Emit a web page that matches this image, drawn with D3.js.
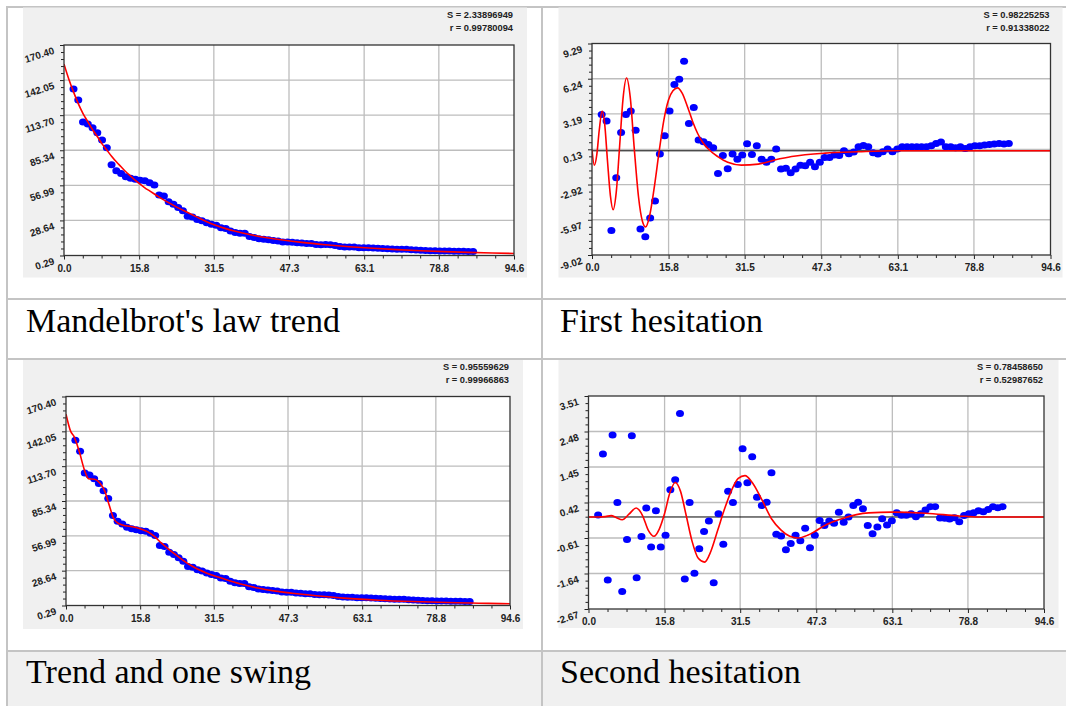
<!DOCTYPE html>
<html>
<head>
<meta charset="utf-8">
<script src="https://cdn.jsdelivr.net/npm/d3@7"></script>
<style>
body { margin: 0; background: #fff; }
svg { display: block; }
.tick text { font-family: "Liberation Sans", Arial, sans-serif; font-weight: bold; font-size: 10px; fill: #222; }
.stat { font-family: "Liberation Sans", Arial, sans-serif; font-weight: bold; font-size: 9.3px; fill: #222; }
.caption { font-family: "Liberation Serif", "Times New Roman", serif; font-size: 34px; fill: #000; }
</style>
</head>
<body>
<div id="chart-area"></div>
<script>
// x index of the ranked observations (2 .. 86)
var ranks = d3.range(2, 87);

// observed values (same series on both trend charts)
var observed = [134.8,125.9,108.1,106.5,103.5,99.5,93.6,87.4,73.6,68.8,66.6,63.9,62.8,62.0,61.2,60.7,59.1,57.2,49.1,48.3,
    43.7,41.8,39.1,36.4,32.1,31.5,29.4,28.3,26.7,25.6,24.8,22.7,22.2,20.1,18.8,18.2,18.2,15.6,14.9,13.8,
    13.4,13.0,12.4,12.1,11.2,11.1,11.0,10.5,10.3,9.9,9.9,9.2,9.0,9.1,8.9,8.4,7.6,7.2,7.1,7.1,
    6.6,6.6,6.5,6.3,6.1,5.9,5.7,5.5,5.4,5.4,5.4,4.9,4.7,4.5,4.4,4.1,4.1,4.0,3.9,3.9,
    3.8,3.8,3.7,3.6,3.5];

// residuals after the trend
var firstResidual = [3.15,2.57,-6.89,-2.33,1.59,3.15,3.44,1.79,-6.77,-7.43,-5.82,-4.35,-0.28,1.30,3.44,5.74,6.20,7.76,2.37,3.75,
    0.93,0.78,0.55,0.26,-1.96,-0.40,-1.55,-0.28,-0.74,-0.37,0.61,-0.31,0.44,-0.74,-0.98,-0.74,0.15,-1.58,-1.52,-1.90,
    -1.58,-1.26,-1.29,-0.98,-1.38,-1.00,-0.57,-0.57,-0.37,-0.40,0.00,-0.25,-0.11,0.35,0.47,0.35,-0.17,-0.28,-0.08,0.15,
    -0.08,0.15,0.35,0.35,0.35,0.35,0.35,0.35,0.44,0.64,0.76,0.35,0.35,0.26,0.35,0.21,0.35,0.44,0.44,0.50,
    0.55,0.58,0.64,0.58,0.64];

// residuals after trend and one swing
var secondResidual = [0.06,1.83,-1.83,2.38,0.42,-2.16,-0.65,2.36,-1.76,-0.57,0.26,-0.87,0.18,-0.87,-0.53,0.79,1.08,3.00,-1.80,0.42,
    -1.63,-0.92,-0.42,-0.12,-1.91,0.09,-0.79,0.75,0.42,0.94,1.98,0.99,1.75,0.57,0.33,0.43,1.28,-0.50,-0.55,-0.95,
    -0.77,-0.53,-0.69,-0.33,-0.89,-0.53,-0.10,-0.25,-0.12,-0.18,0.14,-0.15,0.00,0.33,0.43,0.24,-0.25,-0.49,-0.29,-0.05,
    -0.23,-0.11,0.12,0.05,0.05,0.09,0.01,0.09,0.20,0.30,0.30,-0.03,-0.04,-0.06,-0.02,-0.14,0.04,0.09,0.12,0.18,
    0.15,0.22,0.30,0.27,0.30];

// fitted curves [x, y]
var trendFit = [[0,155],[1,143],[2,132.5],[3,123],[4,115],[5,108.5],[6,102],[7,96.5],[8,90.5],[9,85.5],[10,80.5],[11,76],
    [12,72],[13,68],[14,64.5],[15,61],[16,58],[17,55],[18,52.5],[19,50],[20,47.5],[22,43],[24,38.8],[26,35],[28,31.3],
    [30,27.6],[32,24.6],[34,22.0],[36,19.9],[38,18.1],[40,16.5],[43,14.5],[46,12.8],[50,10.9],[55,9.0],[60,7.4],
    [65,6.1],[70,5.0],[75,4.1],[80,3.4],[85,2.8],[90,2.3],[94.6,1.9]];

var swingFit = [[0,156],[1,142],[1.7,138],[2.8,126],[3.9,111],[4.8,103.5],[6.1,103],[7.2,100],[8.3,93],[9.2,82],
    [10.1,71.5],[11.2,67],[12.7,65.2],[14.1,64.4],[15.6,63],[17.4,60.3],[18.9,56.3],[20.4,50.8],[22.6,44],[24.8,37.5],
    [27,32],[29.9,26.8],[33.6,22],[37.2,17.8],[40.9,14.5],[44.6,12],[48.2,10.3],[51.9,8.8],[59.2,6.3],[66.6,4.6],
    [73.9,3.5],[81.2,2.7],[86.4,2.3],[90,2],[94.6,1.7]];

var firstSwing = [[0,0.1],[0.48,-1.25],[1.0,-0.3],[1.5,1.8],[2.08,3.45],[2.6,2.4],[3.2,-0.9],[3.8,-3.9],[4.36,-5.1],
    [5.0,-3.6],[5.7,0.4],[6.4,4.5],[7.13,6.3],[7.9,4.6],[8.7,0.3],[9.6,-4.0],[10.4,-6.1],[11.07,-6.6],[11.9,-5.6],
    [12.8,-3.3],[13.84,-0.1],[14.8,2.6],[15.78,4.4],[16.7,5.2],[17.65,5.45],[18.6,5.0],[19.72,3.8],[20.8,2.5],
    [21.8,1.5],[22.9,0.7],[23.9,0.2],[25.95,-0.5],[28.0,-1.0],[30.8,-1.24],[34.3,-1.15],[37.7,-0.8],[41.2,-0.5],
    [48.1,-0.2],[55,-0.08],[62,0],[94.6,0]];

var secondSwing = [[0,0],[2,0],[3.5,0.01],[4.7,0.04],[5.8,-0.02],[7.0,-0.08],[8.4,0.08],[9.9,0.26],[11.2,0.05],
    [12.4,-0.38],[13.6,-0.56],[14.7,-0.35],[15.8,0.1],[16.9,0.7],[18.0,1.0],[19.1,0.75],[20.2,0.1],[21.5,-0.7],
    [22.8,-1.2],[24.1,-1.31],[25.4,-1.0],[26.8,-0.4],[28.3,0.25],[29.8,0.8],[31.1,1.12],[32.5,1.2],[34.0,1.0],
    [36,0.5],[38,-0.05],[40,-0.38],[41.8,-0.56],[43.5,-0.61],[45.5,-0.53],[47,-0.42],[49,-0.25],[52.6,-0.05],
    [58.2,0.12],[63,0.14],[70,0.11],[77,0.03],[81,0],[94.6,0]];

// tick labels
var xTicks = [0.0, 15.8, 31.5, 47.3, 63.1, 78.8, 94.6];
var trendTicks = [0.29, 28.64, 56.99, 85.34, 113.70, 142.05, 170.40];
var firstTicks = [-9.02, -5.97, -2.92, 0.13, 3.19, 6.24, 9.29];
var secondTicks = [-2.67, -1.64, -0.61, 0.42, 1.45, 2.48, 3.51];

var captions = ["Mandelbrot's law trend", "First hesitation", "Trend and one swing", "Second hesitation"];
var stats = [["S = 2.33896949", "r = 0.99780094"], ["S = 0.98225253", "r = 0.91338022"],
             ["S = 0.95559629", "r = 0.99966863"], ["S = 0.78458650", "r = 0.52987652"]];

var W = 1066, H = 706;
var svg = d3.select("#chart-area").append("svg")
    .attr("width", W)
    .attr("height", H);

// table
svg.append("rect").attr("x", 7).attr("y", 651).attr("width", W - 7).attr("height", H - 651).attr("fill", "#f0f0f0");
var lineColor = "#c4c4c4";
[7, 299, 359, 651].forEach(function(y) {
    svg.append("line").attr("x1", 6).attr("x2", W).attr("y1", y).attr("y2", y)
        .attr("stroke", lineColor).attr("stroke-width", 2);
});
[7, 542].forEach(function(x) {
    svg.append("line").attr("x1", x).attr("x2", x).attr("y1", 6).attr("y2", H)
        .attr("stroke", lineColor).attr("stroke-width", 2);
});

// captions
var capPos = [[26, 332], [560, 332], [26, 683], [560, 683]];
captions.forEach(function(c, i) {
    svg.append("text").attr("class", "caption")
        .attr("x", capPos[i][0]).attr("y", capPos[i][1]).text(c);
});

var panels = [
    {bg: [23, 7.5, 504, 270], plot: [64, 45, 514, 255.5], ticks: trendTicks, values: observed, fit: trendFit, zero: false, stat: stats[0]},
    {bg: [558.5, 7.5, 504, 270], plot: [592, 43.5, 1050.5, 255], ticks: firstTicks, values: firstResidual, fit: firstSwing, zero: true, stat: stats[1]},
    {bg: [23, 360, 500, 269], plot: [66, 396.5, 510, 605.5], ticks: trendTicks, values: observed, fit: swingFit, zero: false, stat: stats[2]},
    {bg: [558.5, 360, 500, 268], plot: [588.5, 396, 1044, 609], ticks: secondTicks, values: secondResidual, fit: secondSwing, zero: true, stat: stats[3]}
];

panels.forEach(function(p, i) {
    var g = svg.append("g");
    g.append("rect").attr("x", p.bg[0]).attr("y", p.bg[1]).attr("width", p.bg[2]).attr("height", p.bg[3])
        .attr("fill", "#f0f0f0");

    var left = p.plot[0], top = p.plot[1], right = p.plot[2], bottom = p.plot[3];
    var x = d3.scaleLinear().domain([0, 94.6]).range([left, right]);
    var y = d3.scaleLinear().domain([p.ticks[0], p.ticks[p.ticks.length - 1]]).range([bottom, top]);

    g.append("rect").attr("x", left).attr("y", top).attr("width", right - left).attr("height", bottom - top)
        .attr("fill", "#fff");

    // grid
    g.selectAll(".gx").data(xTicks.slice(1, -1)).enter().append("line")
        .attr("x1", function(d) { return x(d); }).attr("x2", function(d) { return x(d); })
        .attr("y1", top).attr("y2", bottom)
        .attr("stroke", "#bdbdbd").attr("stroke-width", 1.3);
    g.selectAll(".gy").data(p.ticks.slice(1, -1)).enter().append("line")
        .attr("x1", left).attr("x2", right)
        .attr("y1", function(d) { return y(d); }).attr("y2", function(d) { return y(d); })
        .attr("stroke", "#bdbdbd").attr("stroke-width", 1.3);

    if (p.zero) {
        g.append("line").attr("x1", left).attr("x2", right).attr("y1", y(0)).attr("y2", y(0))
            .attr("stroke", "#000").attr("stroke-width", 1);
    }

    // minor ticks
    var xMinor = [], yMinor = [];
    for (var k = 0; k < xTicks.length - 1; k++) {
        var xs = (xTicks[k + 1] - xTicks[k]) / 4;
        for (var m = 1; m < 4; m++) xMinor.push(xTicks[k] + xs * m);
    }
    for (var k = 0; k < p.ticks.length - 1; k++) {
        var ys = (p.ticks[k + 1] - p.ticks[k]) / 5;
        for (var m = 1; m < 5; m++) yMinor.push(p.ticks[k] + ys * m);
    }

    var xAxis = g.append("g").attr("transform", "translate(0," + bottom + ")")
        .call(d3.axisBottom(x).tickValues(xTicks).tickSize(4).tickSizeOuter(0)
            .tickFormat(function(d) { return d.toFixed(1); }));
    xAxis.select(".domain").remove();
    xAxis.selectAll(".tick line").attr("stroke", "#222");
    xAxis.selectAll(".tick text").attr("y", 16).attr("dy", null);

    var xAxisMinor = g.append("g").attr("transform", "translate(0," + bottom + ")")
        .call(d3.axisBottom(x).tickValues(xMinor).tickSize(3).tickFormat(""));
    xAxisMinor.select(".domain").remove();
    xAxisMinor.selectAll(".tick line").attr("stroke", "#222");

    var yAxis = g.append("g").attr("transform", "translate(" + left + ",0)")
        .call(d3.axisLeft(y).tickValues(p.ticks).tickSize(4).tickSizeOuter(0)
            .tickFormat(function(d) { return d.toFixed(2); }));
    yAxis.select(".domain").remove();
    yAxis.selectAll(".tick line").attr("stroke", "#222");
    yAxis.selectAll(".tick text")
        .attr("x", null).attr("dy", null)
        .attr("text-anchor", "end")
        .attr("transform", "translate(-9,8) rotate(-18)");

    var yAxisMinor = g.append("g").attr("transform", "translate(" + left + ",0)")
        .call(d3.axisLeft(y).tickValues(yMinor).tickSize(3).tickFormat(""));
    yAxisMinor.select(".domain").remove();
    yAxisMinor.selectAll(".tick line").attr("stroke", "#222");

    // clip
    var clipId = "clip" + i;
    g.append("clipPath").attr("id", clipId).append("rect")
        .attr("x", left).attr("y", top).attr("width", right - left).attr("height", bottom - top);
    var inner = g.append("g").attr("clip-path", "url(#" + clipId + ")");

    inner.selectAll("ellipse").data(p.values).enter().append("ellipse")
        .attr("cx", function(d, j) { return x(ranks[j]); })
        .attr("cy", function(d) { return y(d); })
        .attr("rx", 4).attr("ry", 3.5)
        .attr("fill", "#0000ff");

    var line = d3.line()
        .x(function(d) { return x(d[0]); })
        .y(function(d) { return y(d[1]); })
        .curve(d3.curveMonotoneX);
    inner.append("path").datum(p.fit)
        .attr("d", line)
        .attr("fill", "none")
        .attr("stroke", "#ff0000")
        .attr("stroke-width", 1.6);

    // frame
    g.append("rect").attr("x", left).attr("y", top).attr("width", right - left).attr("height", bottom - top)
        .attr("fill", "none").attr("stroke", "#333").attr("stroke-width", 1.3);

    // stats
    g.append("text").attr("class", "stat").attr("text-anchor", "end")
        .attr("x", right - 1).attr("y", p.bg[1] + 10).text(p.stat[0]);
    g.append("text").attr("class", "stat").attr("text-anchor", "end")
        .attr("x", right - 1).attr("y", p.bg[1] + 23).text(p.stat[1]);
});
</script>
</body>
</html>
